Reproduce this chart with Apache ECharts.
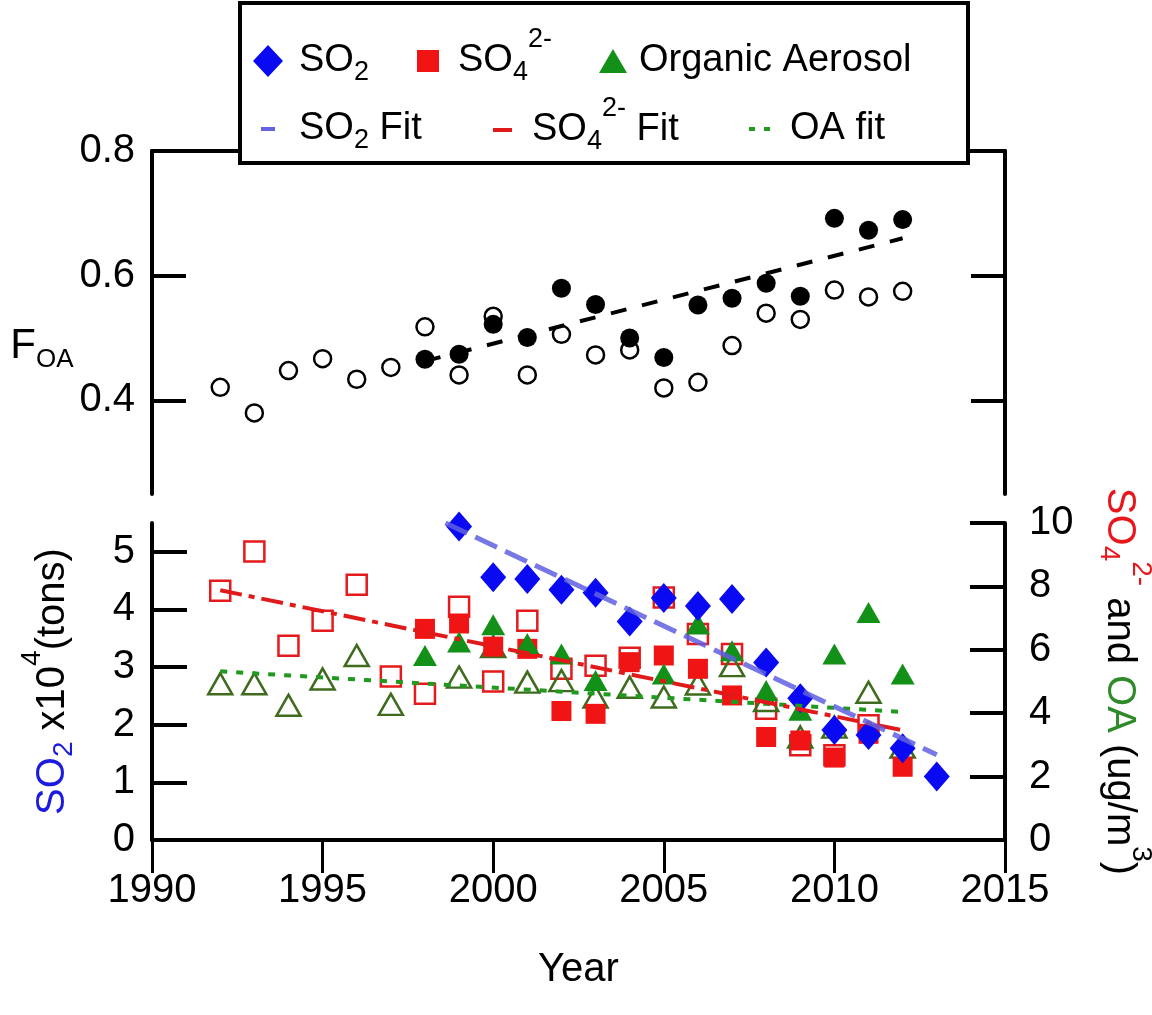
<!DOCTYPE html>
<html><head><meta charset="utf-8">
<script src="https://cdn.jsdelivr.net/npm/echarts@6/dist/echarts.min.js"></script>
<style>html,body{margin:0;padding:0;background:#fff}#c{width:1152px;height:1015px}</style>
</head><body><div id="c"></div>
<script>
const FONT = '"Liberation Sans", Arial, Helvetica, sans-serif';

// ---- Top panel: F_OA ----
const foaOpenYears = [1992,1993,1994,1995,1996,1997,1998,1999,2000,2001,2002,2003,2004,2005,2006,2007,2008,2009,2010,2011,2012];
const foaOpen = [0.421,0.380,0.448,0.467,0.434,0.453,0.518,0.441,0.535,0.441,0.506,0.473,0.481,0.420,0.429,0.488,0.540,0.530,0.577,0.566,0.575];
const foaFilledYears = [1998,1999,2000,2001,2002,2003,2004,2005,2006,2007,2008,2009,2010,2011,2012];
const foaFilled = [0.466,0.474,0.522,0.501,0.580,0.554,0.500,0.469,0.553,0.564,0.588,0.567,0.692,0.673,0.690];
const foaFitYears = [1998,2012];
const foaFit = [0.463,0.660];

// ---- Bottom panel ----
const so2Years = [1999,2000,2001,2002,2003,2004,2005,2006,2007,2008,2009,2010,2011,2012,2013];
const so2 = [5.44,4.56,4.53,4.34,4.29,3.79,4.20,4.06,4.18,3.08,2.46,1.91,1.82,1.59,1.10];
const so2FitYears = [1998.6,2013];
const so2Fit = [5.50,1.48];

const so4Years = [1998,1999,2000,2001,2002,2003,2004,2005,2006,2007,2008,2009,2010,2011,2012];
const so4 = [6.66,6.83,6.10,6.03,4.07,3.98,5.61,5.82,5.40,4.56,3.25,3.14,2.60,3.35,2.31];
const so4OpenYears = [1992,1993,1994,1995,1996,1997,1998,1999,2000,2001,2002,2003,2004,2005,2006,2007,2008,2009,2010,2011];
const so4Open = [7.86,9.10,6.13,6.92,8.05,5.16,4.61,7.36,5.00,6.92,5.40,5.50,5.75,7.65,6.50,5.87,4.14,2.99,2.67,3.62];
const so4FitYears = [1992,2012];
const so4Fit = [7.88,3.46];

const oaYears = [1998,1999,2000,2001,2002,2003,2005,2006,2007,2008,2009,2010,2011,2012];
const oa = [5.82,6.25,6.79,6.20,5.87,5.03,5.24,6.81,5.97,4.72,4.09,5.87,7.18,5.24];
const oaOpenYears = [1992,1993,1994,1995,1996,1997,1999,2000,2001,2002,2003,2004,2005,2006,2007,2008,2009,2010,2011,2012];
const oaOpen = [4.93,4.93,4.25,5.08,5.82,4.28,5.14,6.10,4.98,5.03,4.51,4.82,4.51,4.92,5.50,4.40,3.25,3.56,4.66,2.93];
const oaFitYears = [1992,2012];
const oaFit = [5.32,4.04];

const xTicks = [1990,1995,2000,2005,2010,2015];
const foaTicks = [0.4,0.6,0.8];
const so2Ticks = [0,1,2,3,4,5];
const rightTicks = [0,2,4,6,8,10];

const pairs = (xs, ys) => xs.map((x, i) => [x, ys[i]]);

const BLUE = '#0a0af2', RED = '#f01414', GREEN = '#129018', OLIVE = '#3f6b1e';
const TXT_BLUE = '#1b1be0', TXT_RED = '#e8161b', TXT_GREEN = '#2f8a2a';

const legendRich = {
  n: {fontSize: 38, lineHeight: 70, fontFamily: FONT, color: '#000', verticalAlign: 'middle'},
  sub: {fontSize: 27, lineHeight: 27, fontFamily: FONT, color: '#000', verticalAlign: 'bottom', padding: [0,0,10,0]},
  sup: {fontSize: 27, lineHeight: 27, fontFamily: FONT, color: '#000', verticalAlign: 'top'}
};
const legendLabels = {
  'SO2': '{n|SO}{sub|2}',
  'SO4': '{n|SO}{sub|4}{sup|2-}',
  'Organic Aerosol': '{n|Organic Aerosol}',
  'SO2 Fit': '{n|SO}{sub|2}{n| Fit}',
  'SO4 Fit': '{n|SO}{sub|4}{sup|2-}{n| Fit}',
  'OA fit': '{n|OA fit}'
};
function mkLegend(name, left, top, icon, w, h, color, pad) {
  return {
    show: true, left: left, top: top, padding: 0, itemGap: 0, z: 10,
    selectedMode: false, itemWidth: w, itemHeight: h, icon: icon,
    data: [{name: name, icon: icon, itemStyle: {color: color, borderWidth: 0, opacity: 1}}],
    formatter: n => legendLabels[n],
    textStyle: {fontSize: 38, fontFamily: FONT, color: '#000', rich: legendRich, padding: [0,0,0,pad]}
  };
}

const axisLineStyle = {color: '#000', width: 4};
const tickFont = {fontSize: 40, fontFamily: FONT, color: '#000'};

const option = {
  animation: false,
  backgroundColor: '#fff',
  grid: [
    {left: 152, right: 147, top: 151, height: 343, containLabel: false, outerBoundsMode: 'none'},
    {left: 152, right: 147, top: 523, height: 317, containLabel: false, outerBoundsMode: 'none'}
  ],
  graphic: [
    {type: 'rect', z: 5, shape: {x: 240, y: 3, width: 728, height: 160},
     style: {fill: '#fff', stroke: '#000', lineWidth: 4}}
  ],
  legend: [
    mkLegend('SO2', 253, 42, 'diamond', 30, 32, BLUE, 11),
    mkLegend('SO4', 417, 26, 'rect', 22, 22, RED, 14),
    mkLegend('Organic Aerosol', 599, 42, 'triangle', 28, 24, GREEN, 7),
    mkLegend('SO2 Fit', 261, 110, 'rect', 14, 4, '#6464e0', 19),
    mkLegend('SO4 Fit', 493, 95, 'rect', 19, 4, '#e01a1a', 15),
    mkLegend('OA fit', 749, 110, 'path://M0 0H6V4H0Z M15 0H21V4H15Z', 21, 4, '#1f9a1f', 15)
  ],
  xAxis: [
    {gridIndex: 0, type: 'value', position: 'top', min: 1990, max: 2015,
     axisLine: {show: true, lineStyle: axisLineStyle}, axisTick: {show: false},
     axisLabel: {show: false}, splitLine: {show: false}},
    {gridIndex: 1, type: 'value', position: 'bottom', min: 1990, max: 2015, interval: 5,
     name: 'Year', nameLocation: 'middle', nameGap: 110,
     nameTextStyle: {fontSize: 40, fontFamily: FONT, color: '#000'},
     axisLine: {show: true, lineStyle: axisLineStyle},
     axisTick: {show: true, inside: false, length: 33, lineStyle: {color: '#000', width: 3}, customValues: xTicks},
     axisLabel: Object.assign({margin: 31, customValues: xTicks, formatter: v => String(v)}, tickFont),
     splitLine: {show: false}}
  ],
  yAxis: [
    {gridIndex: 0, type: 'value', position: 'left', min: 0.25, max: 0.8,
     name: '{f|F}{s|OA}', nameLocation: 'middle', nameRotate: 0, nameGap: 76,
     nameTextStyle: {rich: {
       f: {fontSize: 42, fontFamily: FONT, color: '#000', lineHeight: 60, verticalAlign: 'middle'},
       s: {fontSize: 26, fontFamily: FONT, color: '#000', lineHeight: 26, verticalAlign: 'bottom', padding: [0,0,4,0]}
     }, padding: [48,0,0,0]},
     axisLine: {show: true, onZero: false, lineStyle: axisLineStyle},
     axisTick: {show: true, inside: true, length: 34, lineStyle: {color: '#000', width: 4}, customValues: foaTicks},
     axisLabel: Object.assign({margin: 17, customValues: foaTicks, formatter: v => v.toFixed(1)}, tickFont),
     splitLine: {show: false}},
    {gridIndex: 0, type: 'value', position: 'right', min: 0.25, max: 0.8,
     axisLine: {show: true, onZero: false, lineStyle: axisLineStyle},
     axisTick: {show: true, inside: true, length: 34, lineStyle: {color: '#000', width: 4}, customValues: foaTicks},
     axisLabel: {show: false}, splitLine: {show: false}},
    {gridIndex: 1, type: 'value', position: 'left', min: 0, max: 5.5,
     name: '{b|SO}{bs|2}{k| x10}{kp|4}{k|(tons)}', nameLocation: 'middle', nameRotate: 90, nameGap: 64,
     nameTextStyle: {rich: {
       b: {fontSize: 40, fontFamily: FONT, color: TXT_BLUE, lineHeight: 70, verticalAlign: 'middle'},
       bs: {fontSize: 28, fontFamily: FONT, color: TXT_BLUE, lineHeight: 28, verticalAlign: 'bottom', padding: [0,0,10,0]},
       k: {fontSize: 40, fontFamily: FONT, color: '#000', lineHeight: 70, verticalAlign: 'middle'},
       kp: {fontSize: 28, fontFamily: FONT, color: '#000', lineHeight: 28, verticalAlign: 'top'}
     }},
     axisLine: {show: true, onZero: false, lineStyle: axisLineStyle},
     axisTick: {show: true, inside: true, length: 35, lineStyle: {color: '#000', width: 4}, customValues: so2Ticks},
     axisLabel: Object.assign({margin: 17, customValues: so2Ticks, formatter: v => String(v)}, tickFont),
     splitLine: {show: false}},
    {gridIndex: 1, type: 'value', position: 'right', min: 0, max: 10, interval: 2,
     name: '{r|SO}{rs|4}{rp|2-}{k| and }{g|OA}{k| (ug/m}{kp|3}{k|)}', nameLocation: 'middle', nameRotate: -90, nameGap: 69,
     nameTextStyle: {rich: {
       r: {fontSize: 40, fontFamily: FONT, color: TXT_RED, lineHeight: 70, verticalAlign: 'middle'},
       rs: {fontSize: 28, fontFamily: FONT, color: TXT_RED, lineHeight: 28, verticalAlign: 'bottom', padding: [0,0,10,0]},
       rp: {fontSize: 28, fontFamily: FONT, color: TXT_RED, lineHeight: 28, verticalAlign: 'top'},
       g: {fontSize: 40, fontFamily: FONT, color: TXT_GREEN, lineHeight: 70, verticalAlign: 'middle'},
       k: {fontSize: 40, fontFamily: FONT, color: '#000', lineHeight: 70, verticalAlign: 'middle'},
       kp: {fontSize: 28, fontFamily: FONT, color: '#000', lineHeight: 28, verticalAlign: 'top'}
     }},
     axisLine: {show: true, onZero: false, lineStyle: axisLineStyle},
     axisTick: {show: true, inside: true, length: 35, lineStyle: {color: '#000', width: 4}, customValues: rightTicks},
     axisLabel: Object.assign({margin: 24, customValues: rightTicks, formatter: v => String(v)}, tickFont),
     splitLine: {show: false}}
  ],
  series: [
    {name: 'FOA open', type: 'scatter', xAxisIndex: 0, yAxisIndex: 0, clip: false,
     symbol: 'circle', symbolSize: 17, data: pairs(foaOpenYears, foaOpen),
     itemStyle: {color: '#fff', borderColor: '#000', borderWidth: 2.5, opacity: 1}},
    {name: 'FOA filled', type: 'scatter', xAxisIndex: 0, yAxisIndex: 0, clip: false,
     symbol: 'circle', symbolSize: 19, data: pairs(foaFilledYears, foaFilled),
     itemStyle: {color: '#000', opacity: 1}},
    {name: 'FOA fit', type: 'line', xAxisIndex: 0, yAxisIndex: 0, symbol: 'none',
     data: pairs(foaFitYears, foaFit), lineStyle: {color: '#000', width: 4, type: [16, 16]}},

    {name: 'SO4 open', type: 'scatter', xAxisIndex: 1, yAxisIndex: 3, clip: false,
     symbol: 'rect', symbolSize: 20, data: pairs(so4OpenYears, so4Open),
     itemStyle: {color: 'rgba(255,255,255,0)', borderColor: '#e41a1c', borderWidth: 2.5, opacity: 1}},
    {name: 'OA open', type: 'scatter', xAxisIndex: 1, yAxisIndex: 3, clip: false,
     symbol: 'triangle', symbolSize: [24, 21], data: pairs(oaOpenYears, oaOpen),
     itemStyle: {color: 'rgba(255,255,255,0)', borderColor: OLIVE, borderWidth: 2.5, opacity: 1}},
    {name: 'SO4', type: 'scatter', xAxisIndex: 1, yAxisIndex: 3, clip: false,
     symbol: 'rect', symbolSize: 20, data: pairs(so4Years, so4), color: RED,
     itemStyle: {color: RED, opacity: 1}},
    {name: 'Organic Aerosol', type: 'scatter', xAxisIndex: 1, yAxisIndex: 3, clip: false,
     symbol: 'triangle', symbolSize: [24, 21], data: pairs(oaYears, oa), color: GREEN,
     itemStyle: {color: GREEN, opacity: 1}},
    {name: 'SO2', type: 'scatter', xAxisIndex: 1, yAxisIndex: 2, clip: false,
     symbol: 'diamond', symbolSize: [26, 30], data: pairs(so2Years, so2), color: BLUE,
     itemStyle: {color: BLUE, opacity: 1}},
    {name: 'OA fit', type: 'line', xAxisIndex: 1, yAxisIndex: 3, symbol: 'none', color: '#1f9a1f',
     data: pairs(oaFitYears, oaFit), lineStyle: {color: '#1f9a1f', width: 4, type: [7, 9]}},
    {name: 'SO4 Fit', type: 'line', xAxisIndex: 1, yAxisIndex: 3, symbol: 'none', color: '#e01a1a',
     data: pairs(so4FitYears, so4Fit), lineStyle: {color: '#e01a1a', width: 4, type: [22, 7, 6, 7]}},
    {name: 'SO2 Fit', type: 'line', xAxisIndex: 1, yAxisIndex: 2, symbol: 'none', color: '#6464e0',
     data: pairs(so2FitYears, so2Fit), lineStyle: {color: 'rgba(95,95,225,0.85)', width: 5, type: [24, 9]}}
  ]
};

const chart = echarts.init(document.getElementById('c'), null, {renderer: 'canvas'});
chart.setOption(option);
</script>
</body></html>
